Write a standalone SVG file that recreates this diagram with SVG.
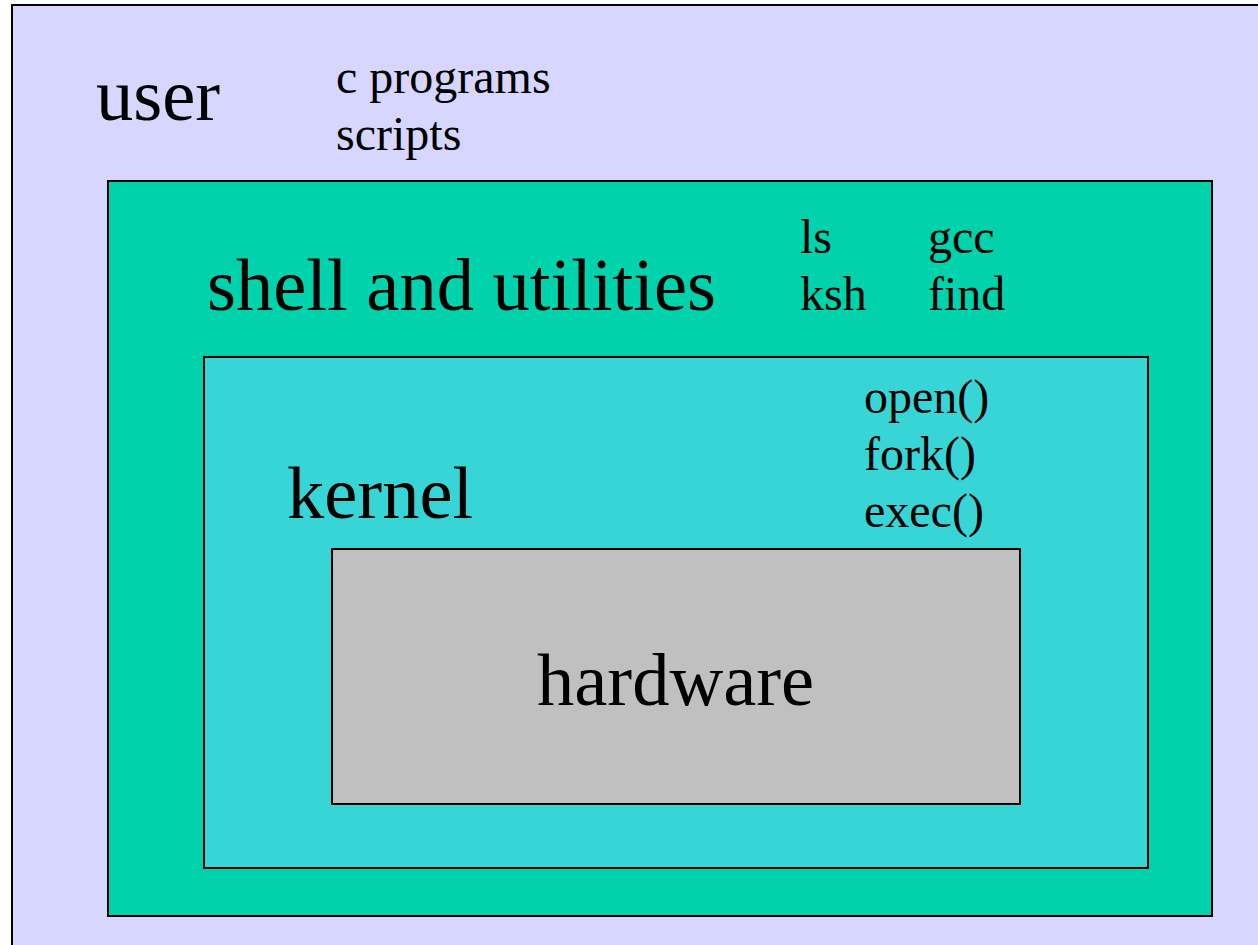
<svg xmlns="http://www.w3.org/2000/svg" width="1258" height="945" viewBox="0 0 1258 945">
<style>
.box{stroke:#000;stroke-width:2}
text{font-family:"Liberation Serif","Times New Roman",serif;fill:#000}
.big{font-size:74.5px}
.small{font-size:48px}
</style>
<rect width="1258" height="945" fill="#fff"/>
<g id="user">
<rect class="box" x="12" y="5" width="1260" height="960" fill="#d6d6fe"/>
<text class="big" x="96" y="120">user</text>
<text class="small" x="336" y="93">c programs</text>
<text class="small" x="336" y="150">scripts</text>
</g>
<g id="shell">
<rect class="box" x="108" y="181" width="1104" height="735" fill="#00d2ab"/>
<text class="big" x="207" y="310">shell and utilities</text>
<text class="small" x="800" y="253">ls</text>
<text class="small" x="800" y="310">ksh</text>
<text class="small" x="928" y="253">gcc</text>
<text class="small" x="928" y="310">find</text>
</g>
<g id="kernel">
<rect class="box" x="204" y="357" width="944" height="511" fill="#38d5d6"/>
<text class="big" x="287" y="518">kernel</text>
<text class="small" x="864" y="413">open()</text>
<text class="small" x="864" y="470">fork()</text>
<text class="small" x="864" y="527">exec()</text>
</g>
<g id="hardware">
<rect class="box" x="332" y="549" width="688" height="255" fill="#c0c0c0"/>
<text class="big" x="537" y="705">hardware</text>
</g>
<g id="connectors"/>
</svg>
